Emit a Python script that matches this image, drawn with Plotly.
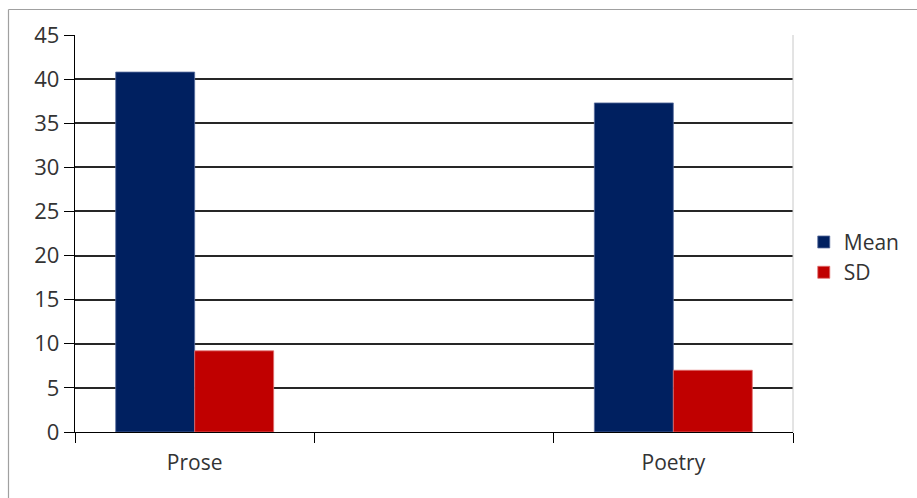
import plotly.graph_objects as go

categories = ["Prose", " ", "Poetry"]
bar_categories = ["Prose", "Poetry"]
mean_values = [40.8, 37.3]
sd_values = [9.2, 7.0]
y_ticks = [0, 5, 10, 15, 20, 25, 30, 35, 40, 45]

FONT = "Open Sans"

fig = go.Figure()
fig.add_trace(go.Bar(
    name="Mean", x=bar_categories, y=mean_values,
    marker=dict(color="#002060", line=dict(color="#5a6f9e", width=0.8)),
))
fig.add_trace(go.Bar(
    name="SD", x=bar_categories, y=sd_values,
    marker=dict(color="#C00000", line=dict(color="#e07070", width=0.8)),
))

L, R, T, B = 75, 124, 35, 66
W, H = 917, 498
pw, ph = W - L - R, H - T - B

fig.update_layout(
    width=W, height=H,
    margin=dict(l=L, r=R, t=T, b=B, pad=0, autoexpand=False),
    paper_bgcolor="white", plot_bgcolor="white",
    barmode="group", bargap=0.34, bargroupgap=0,
    font=dict(family=FONT, size=21, color="#333333"),
    legend=dict(x=1.015, xanchor="left", y=0.44, yanchor="middle",
                font=dict(size=21, color="#333333"), tracegroupgap=0,
                bgcolor="rgba(0,0,0,0)", itemwidth=30),
    xaxis=dict(
        type="category", categoryorder="array", categoryarray=categories,
        range=[-0.5, 2.5],
        showline=True, linecolor="black", linewidth=1.3,
        ticks="outside", tickson="boundaries", ticklen=10, tickcolor="black", tickwidth=1.3,
        ticklabelstandoff=12,
        showgrid=False, tickfont=dict(size=21, color="#333333"),
    ),
    yaxis=dict(
        range=[0, 45], tickvals=y_ticks,
        showline=True, linecolor="black", linewidth=1.3,
        ticks="outside", ticklen=10, tickcolor="black", tickwidth=1.3,
        showgrid=True, gridcolor="#262626", gridwidth=1.5,
        zeroline=False, tickfont=dict(size=22, color="#333333"),
    ),
    shapes=[
        dict(type="line", xref="paper", yref="paper", x0=1, x1=1, y0=0, y1=1,
             line=dict(color="#c8c8c8", width=1)),
        dict(type="line", xref="paper", yref="paper",
             x0=(8.5 - L) / pw, x1=(W - L) / pw + 0.01,
             y0=1 + (T - 9.5) / ph, y1=1 + (T - 9.5) / ph,
             line=dict(color="#a0a0a0", width=1.2)),
        dict(type="line", xref="paper", yref="paper",
             x0=(8.5 - L) / pw, x1=(8.5 - L) / pw,
             y0=1 + (T - 9.5) / ph, y1=-(B + 5) / ph,
             line=dict(color="#a0a0a0", width=1.2)),
    ],
)

fig.write_html("out.html")
